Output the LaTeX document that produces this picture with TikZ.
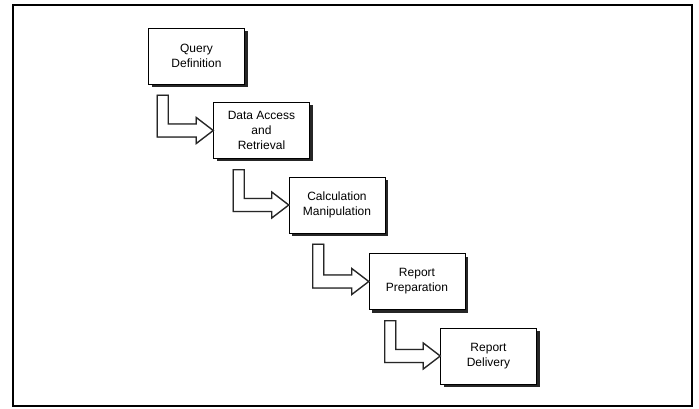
\documentclass[tikz,border=0pt]{standalone}
\usepackage{fontspec}
\setmainfont{Liberation Sans}
\usetikzlibrary{shadows,calc}
\tikzset{
  stagebox/.style={draw=black, line width=0.6pt, fill=white,
    minimum width=96pt, minimum height=56pt, inner sep=0pt,
    align=center, font=\fontsize{12}{15}\selectfont,
    drop shadow={shadow xshift=3pt, shadow yshift=-3pt, fill=black!85, opacity=1}},
  flowarrow/.style={draw=black!85, line width=1.3pt, fill=white, line join=miter},
  arrowshade/.style={draw=black!40, line width=1.4pt},
  frameline/.style={draw=black, line width=2.5pt}
}
% L-shaped block arrow: leaves below box #1 (stem offset #3), points at box #2
\newcommand{\lstep}[3]{%
  \foreach \sx/\sy/\st in {1.3pt/-1.3pt/arrowshade, 0pt/0pt/flowarrow}{
  \draw[\st, xshift=\sx, yshift=\sy] let \p1=($(#1.south west)+(#3,11)$), \p2=(#2.west) in
    (\x1,\y1) -- (\x1+11pt,\y1) -- (\x1+11pt,\y2+6.5pt) -- (\x2-17pt,\y2+6.5pt)
    -- (\x2-17pt,\y2+13pt) -- (\x2,\y2) -- (\x2-17pt,\y2-13pt)
    -- (\x2-17pt,\y2-6.5pt) -- (\x1,\y2-6.5pt) -- cycle;}
}
\begin{document}
\begin{tikzpicture}[x=1pt, y=-1pt]
  \useasboundingbox (0,0) rectangle (699,409);
  \draw[frameline] (13,5) rectangle (692,406);

  \node[stagebox] (query)  at (196.5,56)  {Query\\Definition};
  \node[stagebox] (access) at (261.5,130.5) {Data Access\\and\\Retrieval};
  \node[stagebox] (calc)   at (337,205)   {Calculation\\Manipulation};
  \node[stagebox] (prep)   at (417,281.5) {Report\\Preparation};
  \node[stagebox] (deliv)  at (488.5,356) {Report\\Delivery};

  \lstep{query}{access}{9}
  \lstep{access}{calc}{20}
  \lstep{calc}{prep}{24}
  \lstep{prep}{deliv}{16}
\end{tikzpicture}
\end{document}
